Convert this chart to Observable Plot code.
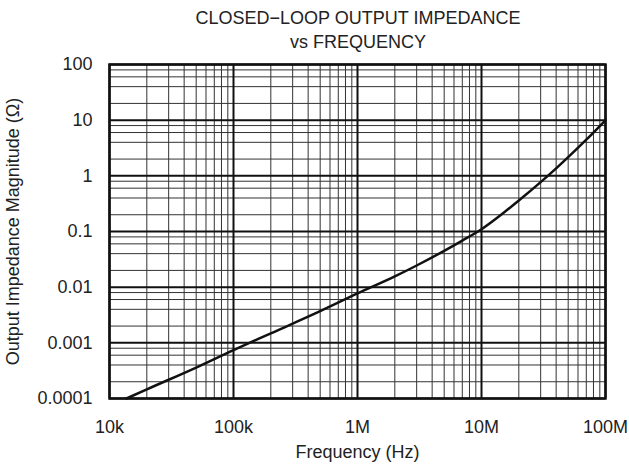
<!DOCTYPE html>
<html>
<head>
<meta charset="utf-8">
<script src="https://cdn.jsdelivr.net/npm/d3@7"></script>
<script src="https://cdn.jsdelivr.net/npm/@observablehq/plot@0.6"></script>
<style>
  html, body { margin: 0; padding: 0; background: #fff; }
  #wrap { position: relative; width: 629px; height: 470px; font-family: "Liberation Sans", Arial, sans-serif; color: #222; }
  .t { position: absolute; left: 110px; width: 496px; text-align: center; font-size: 18px; line-height: 20px; }
</style>
</head>
<body>
<div id="wrap">
  <div class="t" style="top:8px">CLOSED−LOOP OUTPUT IMPEDANCE</div>
  <div class="t" style="top:32px">vs FREQUENCY</div>
  <div id="chart" style="position:absolute; left:0; top:52px;"></div>
</div>
<script>
// Curve: frequency (Hz) and closed-loop output impedance magnitude (Ω)
const frequency = [13.7e3, 20e3, 50e3, 100e3, 200e3, 500e3, 1e6, 2e6, 3e6, 5e6, 7e6, 10e6, 15e6, 20e6, 30e6, 40e6, 50e6, 70e6, 100e6];
const impedance = [0.0001, 0.000146, 0.00036, 0.00074, 0.00148, 0.0037, 0.0077, 0.0156, 0.0245, 0.0449, 0.0686, 0.11, 0.215, 0.36, 0.77, 1.36, 2.16, 4.46, 10];

// Axis ticks
const xTickValues = [1e4, 1e5, 1e6, 1e7, 1e8];
const xTickLabels = ["10k", "100k", "1M", "10M", "100M"];
const yTickValues = [1e-4, 1e-3, 1e-2, 1e-1, 1, 10, 100];
const yTickLabels = ["0.0001", "0.001", "0.01", "0.1", "1", "10", "100"];

// Minor grid multipliers within a decade
const xMinorMult = [2, 3, 4, 5, 6, 7, 8, 9];
const yMinorMult = [2, 4, 6, 8];

const data = frequency.map((f, i) => ({f, z: impedance[i]}));
const xMinor = xTickValues.slice(0, -1).flatMap(d => xMinorMult.map(m => d * m));
const yMinor = yTickValues.slice(0, -1).flatMap(d => yMinorMult.map(m => d * m));

const chart = Plot.plot({
  width: 629,
  height: 418,
  marginLeft: 109,
  marginRight: 24,
  marginTop: 12,
  marginBottom: 72,
  style: {fontFamily: "Liberation Sans, Arial, sans-serif", fontSize: "18px", color: "#222", background: "#fff"},
  x: {type: "log", domain: [1e4, 1e8]},
  y: {type: "log", domain: [1e-4, 100]},
  marks: [
    Plot.ruleX(xMinor, {stroke: "#333", strokeWidth: 1}),
    Plot.ruleY(yMinor, {stroke: "#333", strokeWidth: 1}),
    Plot.ruleX(xTickValues, {stroke: "#111", strokeWidth: 2}),
    Plot.ruleY(yTickValues, {stroke: "#111", strokeWidth: 2}),
    Plot.frame({stroke: "#111", strokeWidth: 2.5}),
    Plot.line(data, {x: "f", y: "z", stroke: "#111", strokeWidth: 2.5, curve: "monotone-x"}),
    Plot.axisX({ticks: xTickValues, tickFormat: d => xTickLabels[xTickValues.indexOf(d)], tickSize: 0, tickPadding: 22, label: null}),
    Plot.axisY({ticks: yTickValues, tickFormat: d => yTickLabels[yTickValues.indexOf(d)], tickSize: 0, tickPadding: 17, label: null}),
    Plot.text(["Frequency (Hz)"], {text: d => d, frameAnchor: "bottom", dy: 59}),
    Plot.text(["Output Impedance Magnitude (Ω)"], {text: d => d, frameAnchor: "left", textAnchor: "middle", dx: -96, rotate: -90})
  ]
});
document.getElementById("chart").appendChild(chart);
</script>
</body>
</html>
